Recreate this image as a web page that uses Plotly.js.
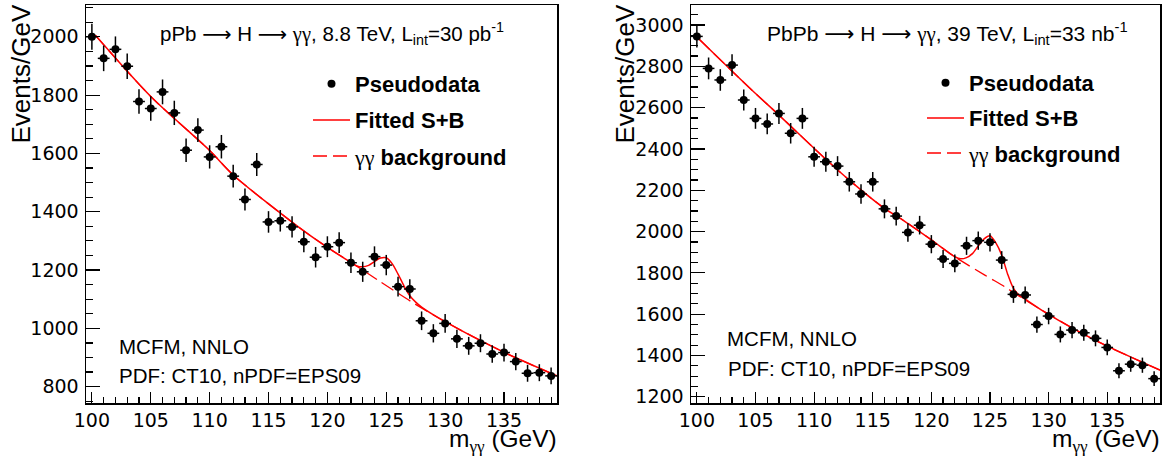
<!DOCTYPE html>
<html>
<head>
<meta charset="utf-8">
<script src="https://cdn.plot.ly/plotly-3.0.1.min.js"></script>
<style>html,body{margin:0;padding:0;background:#fff;}#chart{width:1166px;height:457px;}</style>
</head>
<body>
<div id="chart"></div>
<script>
// ---------- data: bin centres (GeV) ----------
const binsGeV = [100,101,102,103,104,105,106,107,108,109,110,111,112,113,114,115,116,117,118,119,
                 120,121,122,123,124,125,126,127,128,129,130,131,132,133,134,135,136,137,138,139];

// pPb pseudodata (events/GeV)
const pPbEvents = [2000,1926,1957,1899,1778,1754,1811,1739,1611,1680,1588,1623,1522,1442,1562,1365,1369,1348,
                   1297,1244,1280,1294,1225,1194,1246,1217,1143,1135,1026,983,1017,964,940,949,912,917,886,846,848,837];
// PbPb pseudodata (events/GeV)
const PbPbEvents = [2945,2790,2734,2806,2637,2548,2521,2572,2476,2548,2362,2338,2317,2241,2182,2241,2110,2075,
                    1996,2031,1939,1867,1846,1931,1956,1948,1862,1696,1693,1550,1591,1502,1523,1510,1483,1439,1326,1358,1353,1288];

// fitted curves (mass, value)
const pPbBkgX  = [100.3,105,110,112,117.7,120,122,123,124.5,127.1,130,135,139.5];
const pPbBkgY  = [2005,1795,1610,1526,1343,1278,1226,1200,1160,1092,1023,918,837];
const pPbSBX   = [100.3,105,110,112,117.7,120,122,122.5,123,123.5,124,124.5,125,125.5,126,126.5,127,127.5,128,130,135,139.5];
const pPbSBY   = [2005,1795,1610,1526,1343,1278,1226,1214,1211,1216,1229,1241,1242,1222,1186,1146,1112,1090,1073,1023,918,837];

const PbPbBkgX = [100.2,104.5,107,111,113,116,117.7,120,122,124.56,126.26,127.1,129.4,132.5,135,137.5,139.5];
const PbPbBkgY = [2931,2695,2564,2350,2249,2112,2051,1960,1878,1789,1733,1701,1620,1518,1445,1380,1329];
const PbPbSBX  = [100.2,104.5,107,111,113,116,117.7,120,122,122.5,123,123.5,124,124.5,125,125.5,126,126.5,127,127.5,128,129.4,132.5,135,137.5,139.5];
const PbPbSBY  = [2931,2695,2564,2350,2249,2112,2051,1960,1878,1868,1874,1893,1930,1965,1980,1945,1886,1795,1725,1692,1673,1620,1518,1445,1380,1329];

// tick labels
const xTickVals = [100,105,110,115,120,125,130,135];
const pPbYTicks = [800,1000,1200,1400,1600,1800,2000];
const PbPbYTicks = [1200,1400,1600,1800,2000,2200,2400,2600,2800,3000];

// ---------- styling ----------
const W = 1166, H = 457;
const FONT = 'Liberation Sans, Arial, Helvetica, sans-serif';
const TICKFONT = 'DejaVu Sans, Verdana, sans-serif';
const px = v => v / W;
const py = v => 1 - v / H;
const ARROW = '<span style="font-family:DejaVu Sans">⟶</span>';
const GG = '<span style="font-family:Liberation Serif">γγ</span>';

function panelTraces(xa, ya, leg, dataY, bx, by, sx, sy) {
  return [
    {x: bx, y: by, xaxis: xa, yaxis: ya, type: 'scatter', mode: 'lines',
     name: GG + ' <b>background</b>', legend: leg, legendgroup: leg + 'c', legendrank: 3,
     line: {color: '#ff0000', width: 1.3, dash: '14px,6px', shape: 'spline', smoothing: 0.8},
     hoverinfo: 'skip'},
    {x: sx, y: sy, xaxis: xa, yaxis: ya, type: 'scatter', mode: 'lines',
     name: '<b>Fitted S+B</b>', legend: leg, legendgroup: leg + 'b', legendrank: 2,
     line: {color: '#ff0000', width: 1.5, shape: 'spline', smoothing: 0.8},
     hoverinfo: 'skip'},
    {x: binsGeV, y: dataY, xaxis: xa, yaxis: ya, type: 'scatter', mode: 'markers',
     name: '<b>Pseudodata</b>', legend: leg, legendgroup: leg + 'a', legendrank: 1,
     marker: {color: '#000', size: 8},
     error_y: {type: 'sqrt', color: '#000', thickness: 1.5, width: 0},
     error_x: {type: 'constant', value: 0.5, color: '#000', thickness: 1.5, width: 0}}
  ];
}

const traces = [].concat(
  panelTraces('x', 'y', 'legend', pPbEvents, pPbBkgX, pPbBkgY, pPbSBX, pPbSBY),
  panelTraces('x2', 'y2', 'legend2', PbPbEvents, PbPbBkgX, PbPbBkgY, PbPbSBX, PbPbSBY)
);

function xAxis(dom, anchor) {
  return {domain: dom, anchor: anchor, range: [99.5, 139.5], tickvals: xTickVals,
    ticks: 'inside', ticklen: 11, tickwidth: 1.2, tickcolor: '#000',
    minor: {dtick: 1, tick0: 100, ticks: 'inside', ticklen: 6, tickwidth: 1.2, tickcolor: '#000', showgrid: false},
    showline: true, mirror: true, linecolor: '#000', linewidth: 1.5,
    showgrid: false, zeroline: false, ticklabelstandoff: 0,
    tickfont: {family: TICKFONT, size: 19, color: '#000'}};
}
function yAxis(dom, anchor, range, tv) {
  return {domain: dom, anchor: anchor, range: range, tickvals: tv,
    ticks: 'inside', ticklen: 14, tickwidth: 1.2, tickcolor: '#000',
    minor: {dtick: 50, tick0: 0, ticks: 'inside', ticklen: 7, tickwidth: 1.2, tickcolor: '#000', showgrid: false},
    showline: true, mirror: true, linecolor: '#000', linewidth: 1.5,
    showgrid: false, zeroline: false, ticklabelstandoff: 2,
    tickfont: {family: TICKFONT, size: 19, color: '#000'}};
}

const yDom = [1 - 403 / H, 1 - 5 / H];
const legFont = {family: FONT, size: 22, color: '#000'};

const ann = (x, y, text, size, xa, ya, extra) => Object.assign({
  xref: 'paper', yref: 'paper', x: x, y: y, text: text, showarrow: false, borderpad: 0,
  xanchor: xa, yanchor: ya, font: {family: FONT, size: size, color: '#000'}
}, extra || {});

const layout = {
  width: W, height: H,
  margin: {l: 0, r: 0, t: 0, b: 0},
  paper_bgcolor: '#fff', plot_bgcolor: '#fff',
  showlegend: true,
  xaxis: xAxis([86 / W, 557 / W], 'y'),
  yaxis: yAxis(yDom, 'x', [744, 2109], pPbYTicks),
  xaxis2: xAxis([691 / W, 1160 / W], 'y2'),
  yaxis2: yAxis(yDom, 'x2', [1170, 3097], PbPbYTicks),
  legend: {x: px(308), y: py(63), xanchor: 'left', yanchor: 'top', bgcolor: 'rgba(0,0,0,0)',
           borderwidth: 0, font: legFont, tracegroupgap: 4.5, itemwidth: 37, itemclick: false},
  legend2: {x: px(922), y: py(62), xanchor: 'left', yanchor: 'top', bgcolor: 'rgba(0,0,0,0)',
           borderwidth: 0, font: legFont, tracegroupgap: 3.5, itemwidth: 37, itemclick: false},
  annotations: [
    ann(px(159), py(34), 'pPb ' + ARROW + ' H ' + ARROW + ' ' + GG + ', 8.8 TeV, L<sub>int</sub>=30 pb<sup>-1</sup>', 20.5, 'left', 'middle'),
    ann(px(766), py(33), 'PbPb ' + ARROW + ' H ' + ARROW + ' ' + GG + ', 39 TeV, L<sub>int</sub>=33 nb<sup>-1</sup>', 21, 'left', 'middle'),
    ann(px(118), py(346), 'MCFM, NNLO', 20.5, 'left', 'middle'),
    ann(px(118), py(375), 'PDF: CT10, nPDF=EPS09', 20.5, 'left', 'middle'),
    ann(px(726), py(338), 'MCFM, NNLO', 20.5, 'left', 'middle'),
    ann(px(727), py(368), 'PDF: CT10, nPDF=EPS09', 20.5, 'left', 'middle'),
    ann(px(558), py(440), 'm<sub>' + GG + '</sub> (GeV)', 24.5, 'right', 'middle'),
    ann(px(1161), py(440), 'm<sub>' + GG + '</sub> (GeV)', 24.5, 'right', 'middle'),
    ann(px(21), py(4), 'Events/GeV', 26, 'center', 'top', {textangle: -90}),
    ann(px(625), py(4), 'Events/GeV', 26, 'center', 'top', {textangle: -90})
  ]
};

Plotly.newPlot('chart', traces, layout, {staticPlot: true, displayModeBar: false});
</script>
</body>
</html>
